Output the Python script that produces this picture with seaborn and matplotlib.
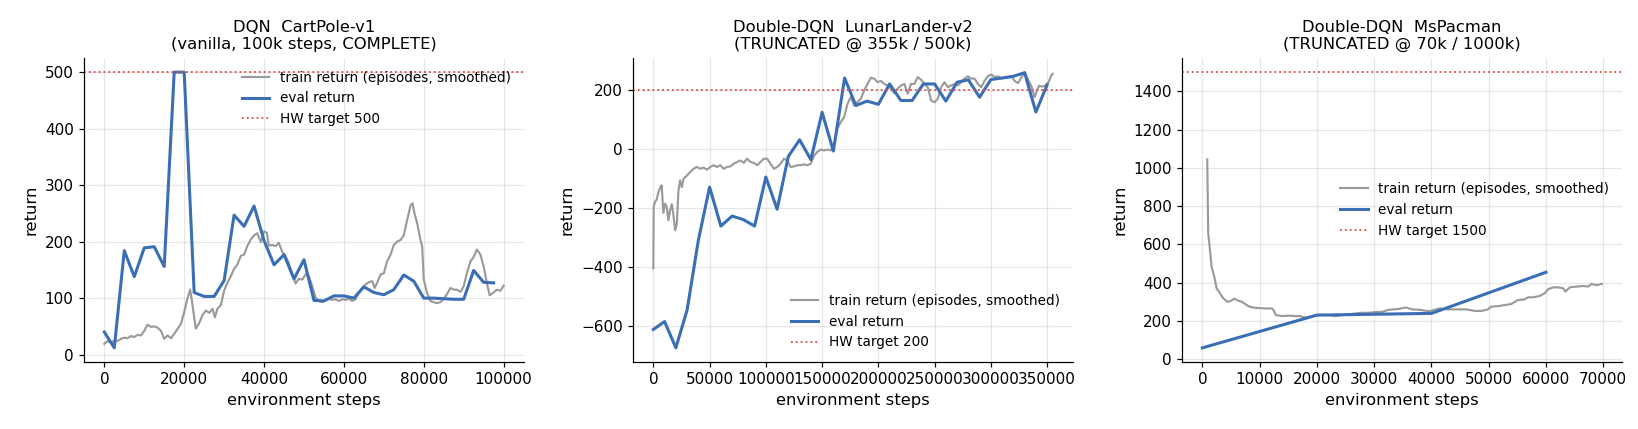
import matplotlib
matplotlib.use("Agg")
import matplotlib.pyplot as plt
import seaborn as sns
import pandas as pd

# ---------------- data ----------------
titles = [
    "DQN  CartPole-v1\n(vanilla, 100k steps, COMPLETE)",
    "Double-DQN  LunarLander-v2\n(TRUNCATED @ 355k / 500k)",
    "Double-DQN  MsPacman\n(TRUNCATED @ 70k / 1000k)",
]
targets = [500, 200, 1500]

# CartPole
cp_train_steps = [0, 800, 1700, 2500, 3300, 4200, 5000, 5800, 6700, 7500,
                  8300, 9200, 10000, 10800, 11700, 12500, 13300, 14200, 15000, 15800,
                  16700, 17500, 18300, 19200, 20000, 20800, 21500, 22100, 22900, 23700,
                  24600, 25400, 26300, 27100, 27700, 28300, 29200, 30000, 30800, 31700,
                  32500, 33300, 34200, 35000, 35800, 36700, 37500, 38300, 39200, 40000,
                  40700, 41200, 42100, 42900, 43700, 44600, 45400, 46200, 47100, 47900,
                  48700, 49600, 50400, 51200, 52100, 52900, 53700, 54600, 55400, 56200,
                  57100, 57900, 58700, 59600, 60400, 61200, 62100, 62900, 63700, 64600,
                  65400, 66200, 67100, 67700, 68300, 69200, 70000, 70800, 71700, 72500,
                  73300, 74200, 75000, 75800, 76700, 77200, 77700, 78300, 79200, 79600,
                  80000, 80800, 81700, 82500, 83300, 84200, 85000, 85800, 86700, 87500,
                  88300, 89200, 90000, 90800, 91700, 92500, 93300, 94200, 95000, 95800,
                  96500, 97500, 98300, 99200, 100000]
cp_train_vals = [19, 24, 21, 25, 24, 28, 30, 29, 33, 31,
                 35, 34, 42, 53, 49, 50, 48, 42, 28, 34,
                 29, 37, 45, 55, 75, 99, 115, 87, 46, 55,
                 70, 78, 74, 81, 66, 81, 88, 113, 127, 139,
                 152, 159, 175, 177, 192, 204, 211, 215, 199, 218,
                 216, 193, 194, 192, 198, 181, 174, 162, 142, 126,
                 134, 133, 142, 139, 121, 101, 95, 93, 97, 99,
                 97, 98, 95, 98, 97, 99, 95, 98, 110, 118,
                 124, 128, 130, 118, 127, 142, 144, 165, 177, 194,
                 200, 203, 211, 237, 264, 268, 249, 234, 203, 192,
                 133, 110, 95, 93, 91, 93, 99, 107, 118, 115,
                 115, 111, 121, 144, 165, 173, 186, 177, 156, 127,
                 105, 110, 115, 113, 122]
cp_eval_steps = [0, 2500, 5000, 7500, 10000, 12500, 15000, 17500, 20000, 22500,
                 25000, 27500, 30000, 32500, 35000, 37500, 40000, 42500, 45000, 47500,
                 50000, 52500, 55000, 57500, 60000, 62500, 65000, 67500, 70000, 72500,
                 75000, 77500, 80000, 82500, 85000, 87500, 90000, 92500, 95000, 97500]
cp_eval_vals = [40, 12, 184, 138, 189, 191, 156, 500, 500, 110,
                103, 103, 131, 247, 227, 263, 202, 159, 177, 134,
                168, 96, 95, 104, 104, 100, 120, 110, 106, 115,
                141, 130, 100, 100, 99, 98, 98, 149, 128, 127]

# LunarLander
ll_train_steps = [0, 300, 1500, 3000, 4500, 6000, 7400, 8900, 10400, 11900,
                  13400, 14900, 16400, 17900, 19400, 20900, 22300, 23800, 25300, 26800,
                  29800, 32700, 35700, 38700, 41700, 44600, 47600, 50600, 53600, 56600,
                  59500, 62500, 65500, 68500, 71400, 74400, 77400, 80400, 83300, 86300,
                  89300, 92300, 95200, 98200, 101200, 104200, 107100, 110100, 113100, 116100,
                  119000, 122000, 125000, 128000, 130900, 133900, 136900, 139900, 142900, 145800,
                  148800, 151800, 154700, 157700, 160700, 163600, 166600, 169600, 172600, 175500,
                  178500, 181500, 184400, 187400, 190400, 193400, 196300, 199300, 202300, 205300,
                  208200, 211200, 214200, 217200, 220100, 223100, 226100, 229000, 232000, 235000,
                  238000, 240900, 243900, 246900, 249900, 252800, 255800, 258800, 261800, 264700,
                  267700, 270700, 273600, 276600, 279600, 282600, 285500, 288500, 291500, 294400,
                  297400, 300400, 303400, 306300, 309300, 312300, 315300, 318200, 321200, 324200,
                  327100, 330100, 333400, 336400, 338800, 340900, 343000, 345300, 348300, 351300,
                  353700, 354900]
ll_train_vals = [-405, -197, -180, -172, -147, -132, -124, -217, -186, -197,
                 -242, -208, -188, -225, -276, -253, -141, -107, -130, -102,
                 -91, -79, -68, -62, -68, -64, -71, -62, -56, -62,
                 -56, -68, -62, -60, -51, -45, -40, -48, -34, -45,
                 -48, -56, -45, -34, -34, -51, -68, -62, -51, -34,
                 -40, -62, -60, -56, -56, -53, -56, -51, -23, -11,
                 -3, -6, -3, -6, 17, 68, 90, 107, 152, 175,
                 146, 158, 169, 197, 219, 240, 237, 225, 229, 219,
                 214, 203, 188, 203, 214, 219, 186, 219, 219, 242,
                 233, 219, 208, 163, 157, 169, 208, 225, 208, 214,
                 219, 214, 225, 237, 245, 237, 237, 219, 208, 230,
                 245, 251, 242, 245, 237, 242, 240, 245, 229, 222,
                 242, 259, 231, 208, 174, 196, 213, 210, 213, 225,
                 248, 253]
ll_eval_steps = [0, 10000, 20000, 30000, 40000, 50000, 60000, 70000, 80000, 90000,
                 100000, 110000, 120000, 130000, 140000, 150000, 160000, 170000, 180000, 190000,
                 200000, 210000, 220000, 230000, 240000, 250000, 260000, 270000, 280000, 290000,
                 300000, 310000, 320000, 330000, 340000, 350000]
ll_eval_vals = [-612, -585, -674, -546, -310, -130, -262, -228, -240, -262,
                -96, -205, -26, 30, -37, 123, -8, 239, 146, 161,
                150, 219, 163, 163, 219, 219, 161, 225, 233, 174,
                234, 239, 245, 257, 124, 216]

# MsPacman
mp_train_steps = [850, 1020, 1320, 1610, 2080, 2490, 3070, 3650, 4360, 5000,
                  5580, 6170, 6870, 7460, 8040, 8740, 9790, 10960, 12130, 12430,
                  12830, 13890, 15060, 16230, 17100, 17690, 18850, 19850, 20900, 22070,
                  23240, 24410, 25580, 26750, 27910, 29080, 30250, 31420, 32300, 33180,
                  34060, 35520, 36690, 38150, 39320, 40020, 41370, 42830, 44580, 46040,
                  47800, 48970, 49840, 50430, 51600, 52760, 53930, 55100, 56270, 56860,
                  57730, 58900, 59770, 60360, 61240, 62120, 62990, 63400, 64160, 65330,
                  66500, 67380, 67960, 68840, 69720]
mp_train_vals = [1045, 659, 572, 484, 432, 371, 345, 319, 301, 305,
                 317, 307, 301, 289, 278, 271, 268, 266, 266, 257,
                 231, 226, 228, 226, 226, 219, 222, 231, 233, 231,
                 226, 231, 236, 240, 243, 243, 247, 248, 257, 261,
                 262, 271, 261, 258, 252, 254, 266, 261, 261, 261,
                 252, 254, 261, 275, 278, 283, 289, 310, 313, 324,
                 324, 331, 345, 366, 376, 376, 371, 354, 376, 380,
                 383, 380, 394, 387, 394]
mp_eval_steps = [0, 20000, 40000, 60000]
mp_eval_vals = [60, 231, 240, 455]

panels = [
    (cp_train_steps, cp_train_vals, cp_eval_steps, cp_eval_vals),
    (ll_train_steps, ll_train_vals, ll_eval_steps, ll_eval_vals),
    (mp_train_steps, mp_train_vals, mp_eval_steps, mp_eval_vals),
]
legend_locs = ["upper right", "lower right", "center right"]

# ---------------- plot ----------------
plt.rcParams["font.family"] = ["DejaVu Sans"]
fig, axes = plt.subplots(1, 3, figsize=(1638 / 110, 429 / 110), dpi=110)
fig.subplots_adjust(left=0.0515, right=0.99, bottom=0.157, top=0.864, wspace=0.25)

for ax, (ts, tv, es, ev), title, tgt, loc in zip(axes, panels, titles, targets, legend_locs):
    train_df = pd.DataFrame({"step": ts, "ret": tv})
    eval_df = pd.DataFrame({"step": es, "ret": ev})
    sns.lineplot(data=train_df, x="step", y="ret", ax=ax, color="#9a9a9a", lw=1.4,
                 label="train return (episodes, smoothed)")
    sns.lineplot(data=eval_df, x="step", y="ret", ax=ax, color="#3A6EB5", lw=2,
                 label="eval return")
    ax.axhline(tgt, color="#d9534f", ls=":", lw=1.2, label=f"HW target {tgt}")
    ax.set_title(title, fontsize=10.7)
    ax.set_xlabel("environment steps", fontsize=10.7)
    ax.set_ylabel("return", fontsize=10.7)
    ax.tick_params(labelsize=10)
    ax.grid(True, alpha=0.3)
    ax.legend(frameon=False, fontsize=8.9, loc=loc)
    sns.despine(ax=ax)

fig.savefig("out.png", dpi=110)
